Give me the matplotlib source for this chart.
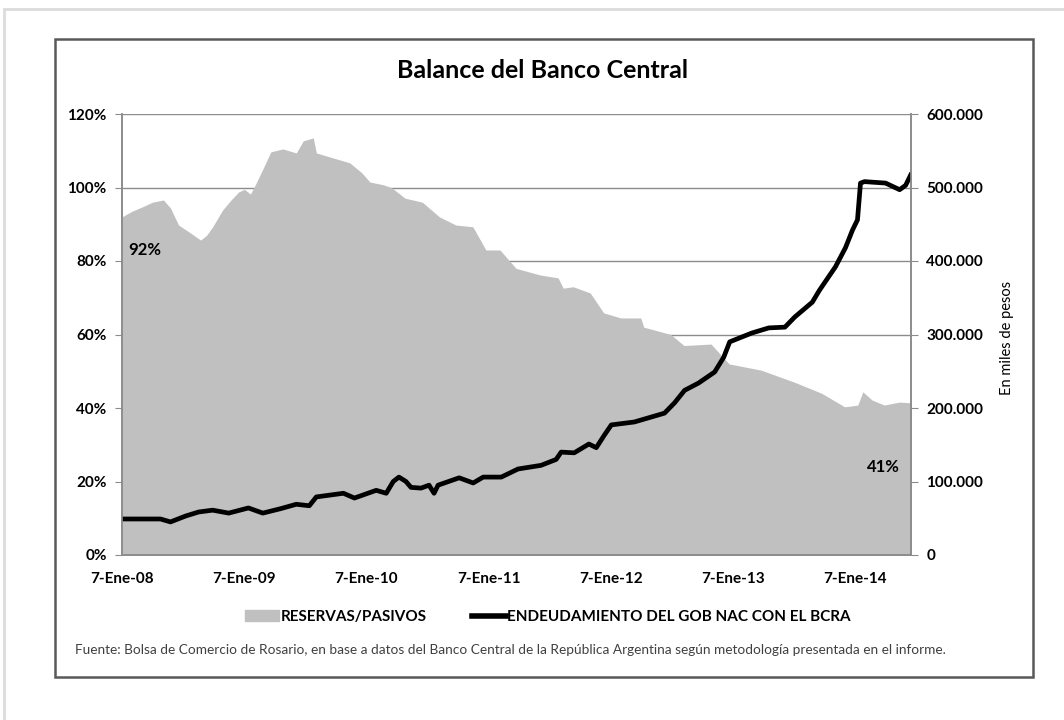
import pandas as pd
import matplotlib
matplotlib.use("Agg")
from matplotlib import pyplot as plt
from matplotlib.patches import Patch, Rectangle
from matplotlib.lines import Line2D
from matplotlib.ticker import FuncFormatter

plt.rcParams["font.family"] = ["Lato", "DejaVu Sans"]

# RESERVAS/PASIVOS (%), left axis
reserve_dates = [
    "2008-01-07", "2008-02-05", "2008-03-07", "2008-04-07", "2008-05-10",
    "2008-05-31", "2008-06-24", "2008-07-30", "2008-08-29", "2008-09-16",
    "2008-10-04", "2008-11-03", "2008-11-27", "2008-12-21", "2009-01-07",
    "2009-01-25", "2009-02-10", "2009-03-03", "2009-03-27", "2009-05-02",
    "2009-06-11", "2009-07-02", "2009-08-01", "2009-08-10", "2009-10-01",
    "2009-11-18", "2009-12-24", "2010-01-17", "2010-02-28", "2010-03-24",
    "2010-05-02", "2010-06-23", "2010-08-13", "2010-10-01", "2010-11-21",
    "2010-12-30", "2011-02-10", "2011-03-30", "2011-06-10", "2011-08-03",
    "2011-08-18", "2011-09-17", "2011-11-07", "2011-12-17", "2012-02-06",
    "2012-04-06", "2012-04-15", "2012-07-05", "2012-08-13", "2012-11-02",
    "2012-11-26", "2012-12-26", "2013-04-01", "2013-07-10", "2013-09-29",
    "2013-12-07", "2014-01-15", "2014-01-30", "2014-02-26", "2014-04-04",
    "2014-05-19", "2014-06-23",
]
reserve_pct = [
    92.0, 93.5, 94.7, 96.0, 96.6,
    94.4, 89.8, 87.6, 85.7, 87.0,
    89.3, 93.9, 96.5, 98.8, 99.5,
    98.2, 101.0, 105.0, 109.7, 110.5,
    109.4, 112.7, 113.5, 109.4, 108.0,
    106.7, 104.0, 101.5, 100.7, 99.9,
    97.1, 96.0, 92.0, 89.8, 89.3,
    83.0, 83.0, 78.0, 76.2, 75.4,
    72.6, 73.0, 71.3, 65.9, 64.5,
    64.5, 62.0, 60.0, 57.0, 57.4,
    55.0, 52.0, 50.3, 47.0, 44.0,
    40.3, 40.8, 44.4, 42.2, 40.8,
    41.6, 41.4,
]

# ENDEUDAMIENTO DEL GOB NAC CON EL BCRA (miles de pesos), right axis
debt_dates = [
    "2008-01-07", "2008-03-17", "2008-05-01", "2008-05-31", "2008-07-15",
    "2008-08-23", "2008-10-04", "2008-11-21", "2009-01-19", "2009-03-03",
    "2009-04-25", "2009-06-11", "2009-07-20", "2009-08-10", "2009-10-30",
    "2009-12-02", "2010-02-05", "2010-03-07", "2010-03-28", "2010-04-14",
    "2010-05-05", "2010-05-20", "2010-06-19", "2010-07-13", "2010-07-28",
    "2010-08-09", "2010-10-11", "2010-11-22", "2010-12-22", "2011-02-14",
    "2011-04-05", "2011-06-13", "2011-07-28", "2011-08-12", "2011-09-20",
    "2011-11-03", "2011-11-25", "2011-12-19", "2012-01-09", "2012-03-18",
    "2012-05-17", "2012-06-16", "2012-07-16", "2012-08-15", "2012-09-26",
    "2012-11-13", "2012-12-10", "2012-12-28", "2013-03-04", "2013-04-24",
    "2013-06-11", "2013-07-11", "2013-09-01", "2013-09-22", "2013-11-09",
    "2013-12-09", "2013-12-30", "2014-01-14", "2014-01-23", "2014-02-04",
    "2014-04-08", "2014-05-20", "2014-06-07", "2014-06-22",
]
debt_thousands = [
    49, 49, 49, 45, 53,
    58.5, 61, 57, 64, 57,
    63, 69, 67, 79, 84,
    77.5, 88, 84, 100, 106,
    100, 92, 91, 95, 84,
    95, 105, 98, 106, 106,
    117, 122, 130, 140, 139,
    151, 146, 163, 177, 181,
    189, 193, 207, 224, 234,
    249, 269, 290, 302, 309,
    310, 324, 344, 360, 392,
    418, 442, 456, 506, 508,
    506, 497, 503, 517,
]

year_ticks = ["2008-01-07", "2009-01-07", "2010-01-07", "2011-01-07",
              "2012-01-07", "2013-01-07", "2014-01-07"]
year_labels = ["7-Ene-08", "7-Ene-09", "7-Ene-10", "7-Ene-11",
               "7-Ene-12", "7-Ene-13", "7-Ene-14"]

W, H = 1064, 720
fig = plt.figure(figsize=(W / 100, H / 100), dpi=100)

# page border and chart box
fig.patches.append(Rectangle((4 / W, -0.1), 1.2, 1 - 9 / H + 0.1, transform=fig.transFigure,
                             fill=False, ec="#dcdcdc", lw=2))
fig.patches.append(Rectangle((55 / W, 1 - 677 / H), (1033 - 55) / W, (677 - 39) / H,
                             transform=fig.transFigure, fill=False, ec="#595959", lw=1.8))

ax = fig.add_axes([122 / W, 1 - 555 / H, (911 - 122) / W, (555 - 114) / H])
ax2 = ax.twinx()

rd = pd.to_datetime(reserve_dates)
dd = pd.to_datetime(debt_dates)
gray = "#c0c0c0"
ax.fill_between(rd, reserve_pct, 0, color=gray, lw=0)
ax2.plot(dd, [v * 1000 for v in debt_thousands], color="black", lw=3.4,
         solid_joinstyle="round")

ax.set_xlim(pd.Timestamp("2008-01-07"), pd.Timestamp("2014-06-23"))
ax.set_ylim(0, 120)
ax2.set_ylim(0, 600000)
ax.set_yticks(range(0, 121, 20))
ax.yaxis.set_major_formatter(FuncFormatter(lambda v, p: f"{v:.0f}%"))
ax2.set_yticks(range(0, 600001, 100000))
ax2.yaxis.set_major_formatter(
    FuncFormatter(lambda v, p: "0" if v == 0 else f"{v:,.0f}".replace(",", ".")))
ax.set_xticks(pd.to_datetime(year_ticks))
ax.set_xticklabels(year_labels)

ax.set_axisbelow(True)
ax.grid(axis="y", color="#8c8c8c", lw=1)
for a in (ax, ax2):
    for s in a.spines.values():
        s.set_color("#8c8c8c")
        s.set_linewidth(1.2)
    a.spines["top"].set_visible(False)
ax.tick_params(axis="y", length=5, color="#8c8c8c", labelsize=11, pad=6)
ax.tick_params(axis="x", length=0, labelsize=11, pad=12)
ax2.tick_params(axis="y", length=5, color="#8c8c8c", labelsize=11, pad=6)
for lbl in ax.get_yticklabels() + ax.get_xticklabels() + ax2.get_yticklabels():
    lbl.set_fontweight("bold")

ax.text(pd.Timestamp("2008-03-15"), 83, "92%", fontsize=12, fontweight="bold",
        ha="center", va="center")
ax.text(pd.Timestamp("2014-04-02"), 24, "41%", fontsize=12, fontweight="bold",
        ha="center", va="center")

fig.text(543 / W, 1 - 70 / H, "Balance del Banco Central", fontsize=18,
         fontweight="bold", ha="center", va="center")
fig.text(1007 / W, 1 - 338 / H, "En miles de pesos", fontsize=10.5,
         rotation=90, ha="center", va="center")

handles = [Patch(color=gray), Line2D([], [], color="black", lw=4)]
fig.legend(handles, ["RESERVAS/PASIVOS", "ENDEUDAMIENTO DEL GOB NAC CON EL BCRA"],
           loc="center", bbox_to_anchor=(548 / W, 1 - 617 / H), ncol=2,
           frameon=False, handlelength=2.2, handletextpad=0.1, columnspacing=3,
           prop={"size": 11, "weight": "bold"})

fig.text(75 / W, 1 - 650 / H,
         "Fuente: Bolsa de Comercio de Rosario, en base a datos del Banco Central de la "
         "República Argentina según metodología presentada en el informe.",
         fontsize=9.8, color="#404040", ha="left", va="center")

fig.savefig("out.png", dpi=100)
